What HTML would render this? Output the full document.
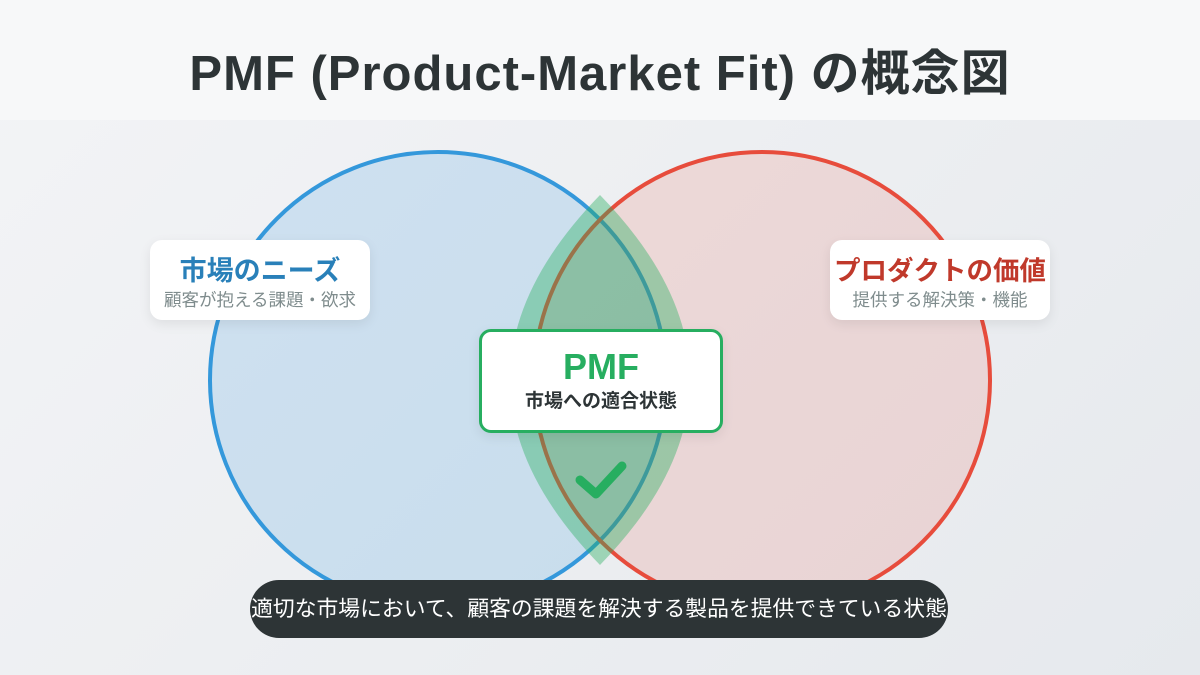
<!DOCTYPE html>
<html><head><meta charset="utf-8"><style>
body{margin:0;width:1200px;height:675px;overflow:hidden;font-family:"Liberation Sans","Noto Sans CJK JP",sans-serif;background:linear-gradient(135deg,#f3f4f6,#e6e9ed);position:relative}
.hdr{position:absolute;left:0;top:0;width:1200px;height:120px;background:#f7f8f9;text-align:center}
.hdr h1{margin:0;font-size:49px;line-height:150px;height:150px;color:#2d3436;font-weight:bold;position:relative;top:-1px;letter-spacing:1px;white-space:nowrap}
.card{position:absolute;background:#fff;border-radius:12px;box-shadow:0 4px 12px rgba(0,0,0,0.08);text-align:center}
</style></head><body>
<div class="hdr"><h1>PMF (Product-Market Fit) の概念図</h1></div>
<svg width="1200" height="675" style="position:absolute;left:0;top:0">
<circle cx="438" cy="380" r="228" fill="rgba(52,152,219,0.18)" stroke="#3498db" stroke-width="4"/>
<circle cx="762" cy="380" r="228" fill="rgba(231,76,60,0.14)" stroke="#e74c3c" stroke-width="4"/>
<path d="M600 195 Q420 380 600 565 Q780 380 600 195Z" fill="rgba(39,174,96,0.4)"/>
<path d="M580 480 L596 494 L622 466" fill="none" stroke="#27ae60" stroke-width="9" stroke-linecap="round" stroke-linejoin="round"/>
</svg>
<div class="card" style="left:150px;top:240px;width:220px;height:80px">
<div style="font-size:27px;font-weight:bold;color:#2980b9;margin-top:14px;line-height:34px">市場のニーズ</div>
<div style="font-size:17.5px;color:#7f8c8d;line-height:24px">顧客が抱える課題・欲求</div></div>
<div class="card" style="left:830px;top:240px;width:220px;height:80px">
<div style="font-size:26.5px;font-weight:bold;color:#c0392b;margin-top:14px;line-height:34px;white-space:nowrap;margin-left:-10px;margin-right:-10px">プロダクトの価値</div>
<div style="font-size:17.5px;color:#7f8c8d;line-height:24px">提供する解決策・機能</div></div>
<div class="card" style="left:479px;top:329px;width:238px;height:98px;border:3px solid #27ae60">
<div style="font-size:36px;font-weight:bold;color:#27ae60;margin-top:14px;line-height:42px">PMF</div>
<div style="font-size:19px;font-weight:bold;color:#2d3436;line-height:28px">市場への適合状態</div></div>
<div style="position:absolute;left:250px;top:580px;width:698px;height:58px;border-radius:29px;background:#2d3436;color:#fff;font-size:21.8px;line-height:58px;text-align:center;white-space:nowrap;display:flex;justify-content:center"><span>適切な市場において、顧客の課題を解決する製品を提供できている状態</span></div>
</body></html>
